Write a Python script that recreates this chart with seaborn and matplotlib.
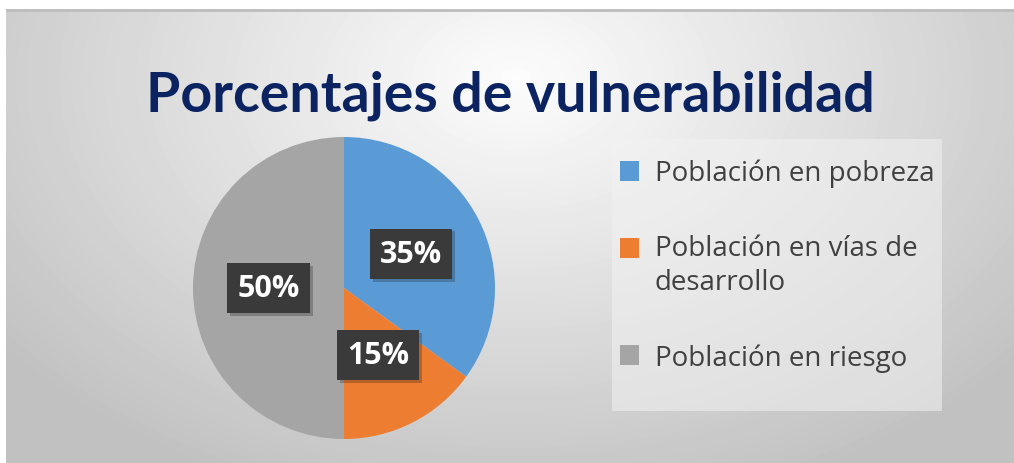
import matplotlib
matplotlib.use("Agg")
import matplotlib.pyplot as plt
import matplotlib.patheffects as pe
from matplotlib.patches import Patch, Rectangle
from matplotlib.legend_handler import HandlerPatch
import numpy as np
import seaborn as sns

# data
categories = ["Población en pobreza", "Población en vías de\ndesarrollo", "Población en riesgo"]
values = [35, 15, 50]
colors = ["#5B9BD5", "#ED7D31", "#A5A5A5"]
title = "Porcentajes de vulnerabilidad"

sns.set_theme(style="white")
plt.rcParams["font.family"] = ["Open Sans", "DejaVu Sans"]

W, H = 1014, 464
fig = plt.figure(figsize=(W / 100, H / 100), dpi=100, facecolor="white")

# background panel with a soft radial gradient
bg = fig.add_axes([6 / W, 0, 1 - 6 / W, (H - 10) / H], zorder=0)
yy, xx = np.mgrid[0:454, 0:1008]
dist = np.sqrt(((xx - 510) / 620.0) ** 2 + ((yy - 70) / 420.0) ** 2)
shade = np.clip(0.99 - 0.22 * dist, 0.76, 0.99)
bg.imshow(shade, cmap="gray", vmin=0, vmax=1, aspect="auto", interpolation="bilinear")
bg.axhline(0, color="#bdbdbd", lw=2)
bg.set_axis_off()

# title
fig.text(510 / W, 1 - 96 / H, title, ha="center", va="center", fontsize=40,
         fontweight="bold", color="#0b2461", family=["Lato", "DejaVu Sans"])

# pie
R = 151
ax = fig.add_axes([(344 - R) / W, (H - 289 - R) / H, 2 * R / W, 2 * R / H], zorder=2)
wedges, texts, autotexts = ax.pie(
    values, colors=colors, startangle=90, counterclock=False,
    autopct="%d%%", pctdistance=0.5, radius=1,
    wedgeprops=dict(linewidth=0),
    textprops=dict(color="white", fontsize=22, fontweight="bold"),
)
for t in autotexts:
    t.set_bbox(dict(boxstyle="square,pad=0.33", fc="#3a3a3a", ec="none"))
    t.get_bbox_patch().set_path_effects(
        [pe.SimplePatchShadow(offset=(2, -2), alpha=0.25), pe.Normal()])
ax.set_xlim(-1, 1)
ax.set_ylim(-1, 1)
ax.set_aspect("equal")

# legend panel
fig.patches.append(Rectangle((612 / W, 1 - 412 / H), 330 / W, 272 / H,
                             transform=fig.transFigure, fc="#f2f2f2", ec="none",
                             alpha=0.55, zorder=1))


def square_handle(legend, orig_handle, xdescent, ydescent, width, height, fontsize):
    # lift the square to the first line of a two-line label
    lift = 13 if orig_handle.get_label() == "two" else 0
    return Rectangle((-xdescent, -ydescent + lift), width, height)


handles = [Patch(facecolor=c, edgecolor="none", label=("two" if "\n" in lab else "one"))
           for c, lab in zip(colors, categories)]
leg = fig.legend(
    handles, categories, loc="upper left",
    bbox_to_anchor=(620 / W, 1 - 160 / H), fontsize=20,
    frameon=False, handlelength=0.7, handleheight=0.7, handletextpad=0.55,
    labelspacing=1.68, borderpad=0, borderaxespad=0,
    handler_map={Patch: HandlerPatch(patch_func=square_handle)},
)
for t in leg.get_texts():
    t.set_color("#404040")
    t.set_linespacing(1.3)

fig.savefig("out.png", dpi=100)
